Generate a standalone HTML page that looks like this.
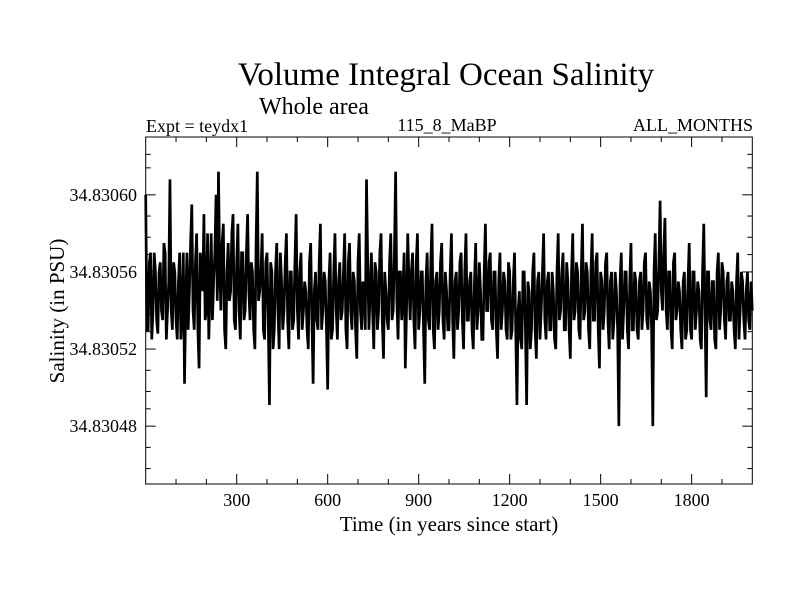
<!DOCTYPE html>
<html><head><meta charset="utf-8"><style>
body{margin:0;background:#fff;}
svg{display:block;font-family:"Liberation Serif",serif;}
</style></head><body>
<svg id="chart" width="800" height="600" viewBox="0 0 800 600">
<rect width="800" height="600" fill="#fff"/>
<text x="446" y="85" font-size="33" text-anchor="middle">Volume Integral Ocean Salinity</text>
<text x="259" y="114" font-size="24">Whole area</text>
<text x="146" y="132" font-size="18">Expt = teydx1</text>
<text x="447" y="131" font-size="18" text-anchor="middle">115_8_MaBP</text>
<text x="753" y="131" font-size="18" text-anchor="end">ALL_MONTHS</text>
<text transform="translate(64,311) rotate(-90)" font-size="21" text-anchor="middle">Salinity (in PSU)</text>
<text x="449" y="531" font-size="21" text-anchor="middle">Time (in years since start)</text>
<g id="ticks"></g>
<g id="series"></g>
<rect x="145.7" y="137" width="606.6" height="347" fill="none" stroke="#000" stroke-width="1"/>
</svg>
<script>
const years0 = 0, yearStep = 8;
const salinityOffsets = [
60,53,57,54,56,52.8,56.5,53.5,57,54,
60.8,53,56,52.5,57,54,50.2,57,55,59.5,
53,58,51,56,59,54,52.5,58,55.5,60,
61.2,54,58.5,52,57.5,55,59,53,58.5,52.5,
57,54,59,53.5,56,52,61.2,55,58,52.5,
57,49.1,56,53,57.5,52,55.5,54,58,52,
56,53.5,59,52.5,57,54,55,52,57.5,50.2,
56,53,58.5,54,55.5,49.9,57,53,58,52.5,
56.5,54,58,52,57.5,53,55.5,51.5,58,53,
55,60.8,53,57,52,56,54,58,51.5,55,
53,58,54,61.2,52.5,56,55,51,58,53.5,
57,52,58,54,56,50.2,57,53,58.5,52,
56,54,57.5,52.5,55,53,58,51.5,56,54,
57,52,58,53.5,56,52,57.5,54,55,52.5,
58.5,54,57,53,56,51.5,57,54,55.5,52.5,
56,53,57,49.1,55,52,56,49.1,55,53,
57,51.5,56,54,58,52.5,56,53,55,52,
58,54,57,53,55.5,51.5,58,54,56,52.5,
58.5,54,56,52,58,53.5,57,51,55.5,54,
57,52,56,53.5,55,48,57,54,56,52,
57.5,53,55.5,52.5,56,54,57,53,55,48,
58,54,59.7,54,58.8,53,56,52,57,54,
55,52,56,53,57.5,52.5,56,54,55,52,
58.5,49.5,56,53,55.5,52,57,54,56,52.5,
56,53.5,55,52,57,54,55.5,52.5,56,53,54];
const salinityMidOffsets = [
53,56.5,52.5,57,53.5,56,54,57.5,52.5,55.5,
54,56.5,53.5,55.5,52.5,57,54.5,53,57.5,54,
56.5,53,57,55,53.5,58,55,53.5,57,54.5,
56,57.5,53,56,54.5,58,53.5,56.5,54,57,
53.5,57,55,56.5,53,57.5,54.5,56,53,56.5,
53.5,56.5,52,56,54,57,53,56.5,53.5,56,
53,56.5,54,56,53,55.5,53,56.5,53.5,55,
53.5,56.5,53,56,53,55.5,52.5,56,54,55.5,
53.5,56,53,56.5,54,56,53,56.5,54,55.5,
53,56.5,55,54,56.5,53,57,53.5,56,53.5,
56.5,53.5,57,54.5,56,53.5,57,54,55.5,56,
53.5,56.5,53,56,53,55.5,53.5,56.5,53,55.5,
53,56.5,53.5,56,53,56,53.5,55.5,53,56.5,
53.5,56,53.5,55.5,53,55.5,53,56.5,52.5,56,
54,56.5,53.5,56,53,55.5,53,56,53,56.5,
52.5,55.5,53,54,52.5,56,53,55.5,52,56,
53,55.5,52.5,56,53.5,55.5,53,56,52.5,56,
53.5,56,53,56.5,53,56,53.5,56.5,53,56,
53.5,56.5,53,56,53.5,56.5,53,56,53,56.5,
53.5,55.5,52.5,56,53,55.5,52.5,56,53,55.5,
53,56,53,55.5,53,56.5,53.5,55.5,53,56,
53.5,56.5,55,57,54,56,53,56.5,53.5,55.5,
53,55.5,52.5,55.5,53,56,53,55.5,52.5,56,
54,56,53.5,55.5,52.5,56,53,56.5,53.5,55.5,
53.5,55.5,53,55.5,52.5,56,53.5,55,53.5,55.5];
const xTickLabels = [300,600,900,1200,1500,1800];
const xMinorTicks = [100,200,400,500,700,800,1000,1100,1300,1400,1600,1700,1900];
const yTickLabels = ["34.83060","34.83056","34.83052","34.83048"];
const yTickValues = [34.83060,34.83056,34.83052,34.83048];
const yMinorTicks = [34.830621,34.830614,34.830589,34.830578,34.830569,34.830549,34.830538,34.830529,34.830509,34.830498,34.830489,34.830469,34.830458];
const X0=145.7,X1=752.3,Y0=484,Y1=137,xMin=0,xMax=2000,yMin=34.830450,yMax=34.830630;
const sx=v=>X0+(v-xMin)/(xMax-xMin)*(X1-X0);
const sy=v=>Y0-(v-yMin)/(yMax-yMin)*(Y0-Y1);
const NS="http://www.w3.org/2000/svg";
const tg=document.getElementById('ticks'), sg=document.getElementById('series');
function line(x1,y1,x2,y2,name){const l=document.createElementNS(NS,'line');
l.setAttribute('x1',x1);l.setAttribute('y1',y1);l.setAttribute('x2',x2);l.setAttribute('y2',y2);
l.setAttribute('stroke','#000');l.setAttribute('stroke-width','1');


tg.appendChild(l);}
function txt(x,y,s,anchor,name){const t=document.createElementNS(NS,'text');
t.setAttribute('x',x);t.setAttribute('y',y);t.setAttribute('font-size','18');t.setAttribute('text-anchor',anchor);t.textContent=s;


tg.appendChild(t);}
xTickLabels.forEach(v=>{const x=sx(v);line(x,Y0,x,Y0-10,'x-major-tick');line(x,Y1,x,Y1+10,'x-major-tick');txt(x,506,String(v),'middle','x-tick-label');});
xMinorTicks.forEach(v=>{const x=sx(v);line(x,Y0,x,Y0-5,'x-minor-tick');line(x,Y1,x,Y1+5,'x-minor-tick');});
yTickValues.forEach((v,i)=>{const y=sy(v);line(X0,y,X0+10,y,'y-major-tick');line(X1,y,X1-10,y,'y-major-tick');txt(137,y+6,yTickLabels[i],'end','y-tick-label');});
yMinorTicks.forEach(v=>{const y=sy(v);line(X0,y,X0+5,y,'y-minor-tick');line(X1,y,X1-5,y,'y-minor-tick');});
const pts=[];
salinityOffsets.forEach((n,i)=>{
  const yr=years0+i*yearStep;
  pts.push(sx(yr).toFixed(2)+','+sy(34.83+n*1e-5).toFixed(2));
  if(i<salinityMidOffsets.length){
    const m=salinityMidOffsets[i];
    pts.push(sx(yr+yearStep/2).toFixed(2)+','+sy(34.83+m*1e-5).toFixed(2));
  }
});
const pl=document.createElementNS(NS,'polyline');
pl.setAttribute('points',pts.join(' '));pl.setAttribute('fill','none');pl.setAttribute('stroke','#000');pl.setAttribute('stroke-width','2.7');pl.setAttribute('stroke-linejoin','miter');


sg.appendChild(pl);
</script>
</body></html>
